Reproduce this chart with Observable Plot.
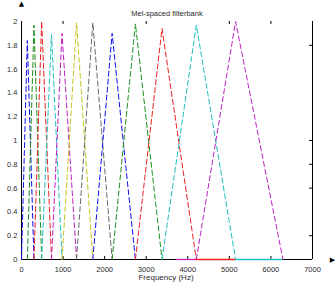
<!DOCTYPE html>
<html>
<head>
<meta charset="utf-8">
<script src="https://cdn.jsdelivr.net/npm/d3@7"></script>
<script src="https://cdn.jsdelivr.net/npm/@observablehq/plot@0.6"></script>
<style>
  html, body { margin: 0; padding: 0; background: #fff; }
  svg { display: block; }
</style>
</head>
<body>
<div id="chart"></div>
<script>
// --- Data ---
const title = "Mel-spaced filterbank";
const xLabel = "Frequency (Hz)";
const freqTicks = [0, 1000, 2000, 3000, 4000, 5000, 6000, 7000];
const ampTicks = [0, 0.2, 0.4, 0.6, 0.8, 1, 1.2, 1.4, 1.6, 1.8, 2];
// filter centre frequencies (Hz) and peak heights
const centers = [140, 300, 485, 722, 975, 1325, 1715, 2180, 2740, 3380, 4205, 5150];
const peaks   = [1.84, 1.97, 2.0, 1.89, 1.9, 1.99, 1.99, 1.9, 1.98, 1.94, 1.97, 2.0];
const lowestEdge = 0;
const highestEdge = 6290;
// MATLAB-like colour cycle
const colorCycle = ["#1010f0", "#1f8f1f", "#ee2020", "#20c0c0", "#c020c0", "#c4c420", "#6a6a6a"];
// flat zero-level pieces visible on the bottom axis (filter index, from, to)
const zeroFilter = [11, 9, 10];
const zeroFrom   = [3720, 4205, 5150];
const zeroTo     = [4205, 5150, 6290];
// stray tick marks visible on the top and right edges
const topTicks = [1000, 3000, 5000, 6000];
const rightTicks = [1.8, 1, 0.8, 0.6, 0.2];

// --- Build triangle tables ---
const edges = [lowestEdge, ...centers, highestEdge];
const filters = centers.map((c, i) => [
  {x: edges[i], y: 0},
  {x: c, y: peaks[i]},
  {x: edges[i + 2], y: 0}
]);

const font = "'Liberation Sans', Arial, sans-serif";
const textFill = "#2a2a2a";

const marks = [
  // frame lines
  Plot.ruleY([0], {x1: 0, x2: 7000, stroke: "#000", strokeWidth: 1}),
  Plot.ruleX([0, 7000], {y1: 0, y2: 2, stroke: "#000", strokeWidth: 1}),
  // bottom inward ticks
  Plot.ruleX(freqTicks.slice(1, -1), {y1: 0, y2: 0.025, stroke: "#000"}),
  // top ticks
  Plot.ruleX(topTicks, {y1: 2, y2: 1.975, stroke: "#000"}),
  // right ticks
  Plot.ruleY(rightTicks, {x1: 6930, x2: 7000, stroke: "#000"}),
  // filters
  ...filters.map((f, i) => Plot.line(f, {
    x: "x", y: "y",
    stroke: colorCycle[i % colorCycle.length],
    strokeWidth: 1,
    strokeDasharray: "5,3"
  })),
  // zero-level pieces on the bottom line
  ...zeroFilter.map((fi, k) => Plot.ruleY([0], {
    x1: zeroFrom[k], x2: zeroTo[k],
    stroke: colorCycle[fi % colorCycle.length], strokeWidth: 1.3
  })),
  // tick labels
  Plot.text(freqTicks, {x: d => d, y: 0, dy: 10, text: d => String(d),
    fontSize: 7.5, fill: textFill, fontFamily: font}),
  Plot.text(ampTicks, {x: 0, y: d => d, dx: -4, textAnchor: "end", text: d => String(d),
    fontSize: 7.5, fill: textFill, fontFamily: font}),
  // title and axis label
  Plot.text([title], {frameAnchor: "top", dy: -11, text: d => d,
    fontSize: 7.5, fill: textFill, fontFamily: font}),
  Plot.text([xLabel], {frameAnchor: "bottom", dy: 20, dx: -1, text: d => d,
    fontSize: 8, fill: textFill, fontFamily: font}),
  // axis arrowheads
  Plot.text(["▲"], {x: 0, y: 2.147, text: d => d, fontSize: 7, fill: "#000", fontFamily: "DejaVu Sans"}),
  Plot.text(["▶"], {x: 7480, y: 0, text: d => d, fontSize: 7, fill: "#000", fontFamily: "DejaVu Sans"})
];

const chart = Plot.plot({
  width: 335,
  height: 288,
  marginLeft: 21,
  marginRight: 23,
  marginTop: 21,
  marginBottom: 29,
  x: {domain: [0, 7000], axis: null},
  y: {domain: [0, 2], axis: null},
  style: {background: "#fff", fontFamily: font},
  marks
});
document.getElementById("chart").appendChild(chart);
</script>
</body>
</html>
